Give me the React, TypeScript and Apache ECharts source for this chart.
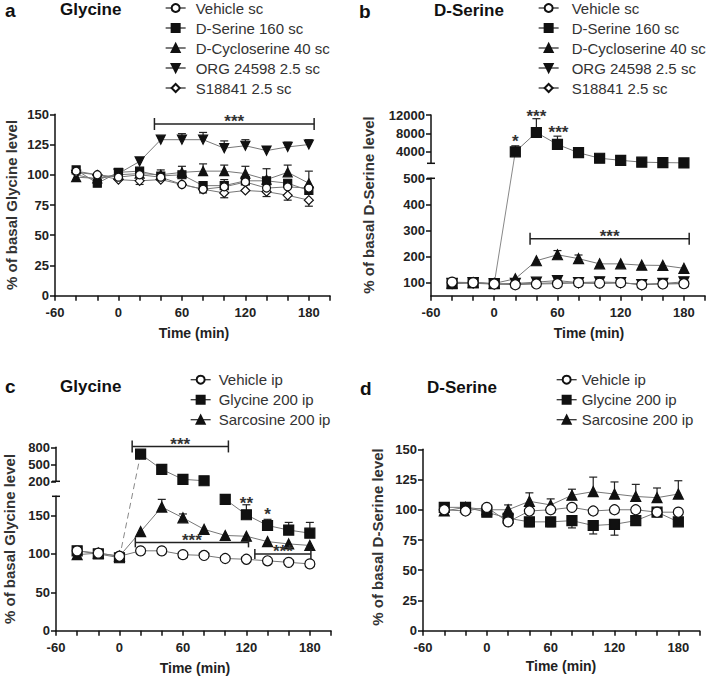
import React, { useEffect, useRef } from 'react';
import * as echarts from 'echarts';

const FONT = '"Liberation Sans", Arial, Helvetica, sans-serif';
const LINE = '#777';
const MARK = '#111';

// ---------- shared ----------
const TIME = [-40, -20, 0, 20, 40, 60, 80, 100, 120, 140, 160, 180];
const TIME_PRE = [-40, -20, 0];
const TIME_POST = [20, 40, 60, 80, 100, 120, 140, 160, 180];
const TIME_C_UPPER = [20, 40, 60, 80];
const TIME_C_LOWER = [100, 120, 140, 160, 180];
const X_TICK_LABELS = [-60, 0, 60, 120, 180];

const SC_NAMES = ['Vehicle sc', 'D-Serine 160 sc', 'D-Cycloserine 40 sc', 'ORG 24598 2.5 sc', 'S18841 2.5 sc'];
const IP_NAMES = ['Vehicle ip', 'Glycine 200 ip', 'Sarcosine 200 ip'];

// ---------- panel a (Glycine, sc) ----------
const A_VEHICLE = [103, 100, 98, 100, 98, 92, 88, 90, 94, 89, 90, 89];
const A_VEHICLE_ERR = [0, 0, 0, 0, 0, 0, 0, 6, 0, 0, 0, 0];
const A_DSERINE = [104, 93, 102, 103, 99, 100, 91, 91, 95, 95, 93, 87];
const A_DSERINE_ERR = [0, 0, 0, 0, 0, 0, -3, 0, 0, -3, 0, 0];
const A_DCS = [98, 97, 100, 101, 100, 102, 103, 103, 101, 96, 102, 93];
const A_DCS_ERR = [0, 0, 0, 0, 4, 5, 6, 5, 6, 9, 6, 10];
const A_ORG = [100, 96, 101, 111, 129, 129, 129, 122, 124, 120, 123, 125];
const A_ORG_ERR = [0, 0, 0, 0, 0, 5, 6, 6, 5, 0, 4, 4];
const A_S18841 = [102, 100, 96, 95, 96, 92, 88, 85, 87, 86, 83, 79];
const A_S18841_ERR = [0, 0, 0, -3, 0, 0, -3, -4, 0, -4, -4, -5];
const A_Y_TICKS = [0, 25, 50, 75, 100, 125, 150];
const A_BRACKETS = [{ x1: 34, x2: 185, y: 142, label: '***', tick: 6 }];

// ---------- panel b (D-Serine, sc) ----------
const B_VEHICLE = [102, 100, 95, 92, 95, 96, 100, 98, 100, 92, 95, 96];
const B_DSERINE_PRE = [96, 100, 96];
const B_DSERINE_POST = [4000, 8200, 5600, 3800, 2600, 2150, 1750, 1650, 1580];
const B_DSERINE_POST_ERR = [1300, 3000, 1800, 700, 0, 0, 0, 0, 0];
const B_DCS = [98, 100, 97, 115, 184, 207, 192, 172, 172, 167, 166, 155];
const B_DCS_ERR = [0, 0, 0, 0, 0, 16, 14, 0, 0, 0, 0, 0];
const B_ORG = [97, 100, 95, 97, 102, 108, 100, 103, 100, 93, 97, 103];
const B_ORG_ERR = [0, 0, 0, 0, 0, 6, 0, 5, 0, 0, 0, 5];
const B_S18841 = [101, 98, 94, 96, 97, 100, 98, 97, 99, 94, 96, 97];
const B_BRACKETS = [{ x1: 34, x2: 185, y: 268, label: '***', tick: 6 }];
const B_STARS = [
  { x: 20, y: 7200, label: '*' },
  { x: 40, y: 12600, label: '***' },
  { x: 61, y: 9000, label: '***' },
];
const B_UPPER_TICKS = [4000, 8000, 12000];
const B_LOWER_TICKS = [100, 200, 300, 400, 500];

// ---------- panel c (Glycine, ip) ----------
const C_VEHICLE = [104, 101, 97, 104, 104, 99, 98, 94, 93, 91, 89, 87];
const C_GLY_PRE = [104, 100, 95];
const C_GLY_UPPER = [680, 410, 235, 210];
const C_GLY_LOWER = [171, 151, 137, 131, 127];
const C_GLY_LOWER_ERR = [0, 13, 8, 10, 14];
const C_SAR = [99, 101, 97, 129, 161, 147, 132, 124, 123, 116, 113, 111];
const C_SAR_ERR = [0, 0, 0, 0, 10, 5, 0, 0, 0, 0, 0, 0];
const C_UPPER_BRACKETS = [{ x1: 12, x2: 103, y: 815, label: '***', tick: 6 }];
const C_LOWER_BRACKETS = [
  { x1: 15, x2: 122, y: 115, label: '***', tick: 5 },
  { x1: 128, x2: 181, y: 100, label: '***', tick: 5 },
];
const C_STARS = [
  { x: 120, y: 171, label: '**' },
  { x: 140, y: 156, label: '*' },
];
const C_UPPER_TICKS = [200, 500, 800];
const C_LOWER_TICKS = [0, 50, 100, 150];

// ---------- panel d (D-Serine, ip) ----------
const D_VEHICLE = [100, 99, 102, 90, 99, 100, 102, 99, 100, 100, 98, 98];
const D_VEHICLE_ERR = [0, 0, 0, -3, 0, 0, 0, 0, 0, 0, 0, 0];
const D_GLY = [102, 102, 98, 93, 90, 90, 91, 87, 88, 91, 98, 90];
const D_GLY_ERR = [0, 0, 0, 0, -4, -4, -6, -7, -9, 0, -3, 0];
const D_SAR = [99, 102, 100, 100, 107, 104, 112, 115, 113, 111, 110, 113];
const D_SAR_ERR = [0, 0, 0, 4, 7, 5, 5, 12, 10, 10, 8, 11];
const D_Y_TICKS = [0, 25, 50, 75, 100, 125, 150];

// ---------- helpers ----------
const DOWN_TRI = 'path://M0,0L10,0L5,9Z';

function lineSeries(name: string, xs: number[], ys: number[], grid: number, symbol: string, fill: string, size: number, z = 3) {
  return {
    type: 'line',
    name,
    xAxisIndex: grid,
    yAxisIndex: grid,
    data: xs.map((x, i) => [x, ys[i]]),
    symbol,
    symbolSize: size,
    showAllSymbol: true,
    lineStyle: { color: LINE, width: 1 },
    itemStyle: { color: fill, borderColor: MARK, borderWidth: 1.2 },
    emphasis: { disabled: true },
    silent: true,
    z,
  };
}

function errorSeries(grid: number, xs: number[], ys: number[], es: number[]) {
  const data = xs.map((x, i) => [x, ys[i], ys[i] + es[i]]).filter((d, i) => es[i] !== 0);
  return {
    type: 'custom',
    xAxisIndex: grid,
    yAxisIndex: grid,
    data,
    encode: { x: 0, y: [1, 2] },
    silent: true,
    z: 1,
    renderItem: (params: any, api: any) => {
      const p0 = api.coord([api.value(0), api.value(1)]);
      const p1 = api.coord([api.value(0), api.value(2)]);
      const st = { stroke: '#222', lineWidth: 1.2 };
      return {
        type: 'group',
        children: [
          { type: 'line', shape: { x1: p0[0], y1: p0[1], x2: p1[0], y2: p1[1] }, style: st },
          { type: 'line', shape: { x1: p1[0] - 4, y1: p1[1], x2: p1[0] + 4, y2: p1[1] }, style: st },
        ],
      };
    },
  };
}

function bracketSeries(grid: number, brackets: { x1: number; x2: number; y: number; label: string; tick: number }[]) {
  return {
    type: 'custom',
    xAxisIndex: grid,
    yAxisIndex: grid,
    data: brackets.map((b) => [b.x1, b.x2, b.y]),
    encode: { x: [0, 1], y: 2 },
    silent: true,
    z: 4,
    renderItem: (params: any, api: any) => {
      const b = brackets[params.dataIndex];
      const a = api.coord([api.value(0), api.value(2)]);
      const c = api.coord([api.value(1), api.value(2)]);
      const st = { stroke: '#222', lineWidth: 1.5 };
      return {
        type: 'group',
        children: [
          { type: 'line', shape: { x1: a[0], y1: a[1], x2: c[0], y2: c[1] }, style: st },
          { type: 'line', shape: { x1: a[0], y1: a[1] - b.tick, x2: a[0], y2: a[1] + b.tick }, style: st },
          { type: 'line', shape: { x1: c[0], y1: c[1] - b.tick, x2: c[0], y2: c[1] + b.tick }, style: st },
          {
            type: 'text',
            x: (a[0] + c[0]) / 2,
            y: a[1] - 2,
            style: { text: b.label, font: `bold 17px ${FONT}`, fill: '#333', textAlign: 'center', textVerticalAlign: 'middle' },
          },
        ],
      };
    },
  };
}

function starSeries(grid: number, stars: { x: number; y: number; label: string }[]) {
  return {
    type: 'custom',
    xAxisIndex: grid,
    yAxisIndex: grid,
    data: stars.map((s) => [s.x, s.y]),
    silent: true,
    z: 4,
    renderItem: (params: any, api: any) => {
      const s = stars[params.dataIndex];
      const p = api.coord([api.value(0), api.value(1)]);
      return {
        type: 'text',
        x: p[0],
        y: p[1] + 4,
        style: { text: s.label, font: `bold 17px ${FONT}`, fill: '#333', textAlign: 'center', textVerticalAlign: 'middle' },
      };
    },
  };
}

function breakSeries(grid: number, marks: number[][]) {
  return {
    type: 'custom',
    xAxisIndex: grid,
    yAxisIndex: grid,
    data: marks,
    silent: true,
    z: 4,
    renderItem: (params: any, api: any) => {
      const p = api.coord([api.value(0), api.value(1)]);
      return { type: 'line', shape: { x1: p[0] - 4, y1: p[1], x2: p[0] + 4, y2: p[1] }, style: { stroke: MARK, lineWidth: 1.5 } };
    },
  };
}

const axisLineStyle = { color: MARK, width: 1.5 };
const tickLabel = { fontFamily: FONT, fontWeight: 'bold', fontSize: 13, color: '#222' };
const plain = (v: number) => String(v);

function xAxis(grid: number, show = true) {
  return {
    type: 'value',
    gridIndex: grid,
    show,
    min: -60,
    max: 200,
    interval: 20,
    axisLine: { show: true, onZero: false, lineStyle: axisLineStyle },
    axisTick: { show: true, length: 5, lineStyle: axisLineStyle },
    axisLabel: { ...tickLabel, margin: 10, customValues: X_TICK_LABELS, formatter: plain },
    splitLine: { show: false },
  };
}

function yAxis(grid: number, min: number, max: number, labels: number[], ticks?: number[]) {
  return {
    type: 'value',
    gridIndex: grid,
    min,
    max,
    axisLine: { show: true, onZero: false, lineStyle: axisLineStyle },
    axisTick: { show: true, length: 5, lineStyle: axisLineStyle, customValues: ticks || labels },
    axisLabel: { ...tickLabel, margin: 6, customValues: labels, formatter: plain },
    splitLine: { show: false },
  };
}

function legend(names: string[], left: number, top: number, pad: number) {
  return {
    left,
    top,
    orient: 'vertical',
    padding: 0,
    itemWidth: 20,
    itemHeight: 10,
    itemGap: 0,
    selectedMode: false,
    data: names,
    lineStyle: { color: '#333', width: 1.3 },
    textStyle: { fontFamily: FONT, fontSize: 15, color: '#333', lineHeight: 20, padding: [0, 0, 0, pad] },
  };
}

function buildOption() {
  const grids = [
    { left: 55, top: 114.3, width: 275, height: 181.4 },
    { left: 431, top: 115, width: 274, height: 48.3 },
    { left: 431, top: 178.3, width: 274, height: 117.4 },
    { left: 56, top: 447.3, width: 275, height: 34 },
    { left: 56, top: 496.3, width: 275, height: 134.4 },
    { left: 423, top: 449.3, width: 276.6, height: 181.4 },
  ].map((g) => ({ ...g, outerBoundsMode: 'none', containLabel: false }));

  const series: any[] = [
    // panel a
    errorSeries(0, TIME, A_ORG, A_ORG_ERR),
    errorSeries(0, TIME, A_DCS, A_DCS_ERR),
    errorSeries(0, TIME, A_DSERINE, A_DSERINE_ERR),
    errorSeries(0, TIME, A_VEHICLE, A_VEHICLE_ERR),
    errorSeries(0, TIME, A_S18841, A_S18841_ERR),
    lineSeries(SC_NAMES[3], TIME, A_ORG, 0, DOWN_TRI, MARK, 9),
    lineSeries(SC_NAMES[2], TIME, A_DCS, 0, 'triangle', MARK, 9),
    lineSeries(SC_NAMES[1], TIME, A_DSERINE, 0, 'rect', MARK, 8),
    lineSeries(SC_NAMES[4], TIME, A_S18841, 0, 'diamond', '#fff', 9),
    lineSeries(SC_NAMES[0], TIME, A_VEHICLE, 0, 'circle', '#fff', 8),
    bracketSeries(0, A_BRACKETS),
    // panel b
    errorSeries(1, TIME_POST, B_DSERINE_POST, B_DSERINE_POST_ERR),
    errorSeries(2, TIME, B_DCS, B_DCS_ERR),
    errorSeries(2, TIME, B_ORG, B_ORG_ERR),
    lineSeries(SC_NAMES[1], TIME_POST, B_DSERINE_POST, 1, 'rect', MARK, 10),
    lineSeries(SC_NAMES[1], TIME_PRE, B_DSERINE_PRE, 2, 'rect', MARK, 10),
    lineSeries(SC_NAMES[2], TIME, B_DCS, 2, 'triangle', MARK, 10),
    lineSeries(SC_NAMES[3], TIME, B_ORG, 2, DOWN_TRI, MARK, 10),
    lineSeries(SC_NAMES[4], TIME, B_S18841, 2, 'diamond', '#fff', 9),
    lineSeries(SC_NAMES[0], TIME, B_VEHICLE, 2, 'circle', '#fff', 10),
    bracketSeries(2, B_BRACKETS),
    starSeries(1, B_STARS),
    breakSeries(1, [[-60, 1500]]),
    breakSeries(2, [[-60, 500]]),
    // panel c
    errorSeries(4, TIME_C_LOWER, C_GLY_LOWER, C_GLY_LOWER_ERR),
    errorSeries(4, TIME, C_SAR, C_SAR_ERR),
    lineSeries(IP_NAMES[1], TIME_C_UPPER, C_GLY_UPPER, 3, 'rect', MARK, 10),
    lineSeries(IP_NAMES[1], TIME_PRE, C_GLY_PRE, 4, 'rect', MARK, 10),
    lineSeries(IP_NAMES[1], TIME_C_LOWER, C_GLY_LOWER, 4, 'rect', MARK, 10),
    lineSeries(IP_NAMES[2], TIME, C_SAR, 4, 'triangle', MARK, 10),
    lineSeries(IP_NAMES[0], TIME, C_VEHICLE, 4, 'circle', '#fff', 10),
    bracketSeries(3, C_UPPER_BRACKETS),
    bracketSeries(4, C_LOWER_BRACKETS),
    starSeries(4, C_STARS),
    breakSeries(3, [[-60, 200]]),
    breakSeries(4, [[-60, 175]]),
    // panel d
    errorSeries(5, TIME, D_SAR, D_SAR_ERR),
    errorSeries(5, TIME, D_GLY, D_GLY_ERR),
    errorSeries(5, TIME, D_VEHICLE, D_VEHICLE_ERR),
    lineSeries(IP_NAMES[2], TIME, D_SAR, 5, 'triangle', MARK, 10),
    lineSeries(IP_NAMES[1], TIME, D_GLY, 5, 'rect', MARK, 10),
    lineSeries(IP_NAMES[0], TIME, D_VEHICLE, 5, 'circle', '#fff', 10),
  ];

  return {
    animation: false,
    backgroundColor: '#fff',
    grid: grids,
    xAxis: [xAxis(0), xAxis(1, false), xAxis(2), xAxis(3, false), xAxis(4), xAxis(5)],
    yAxis: [
      yAxis(0, 0, 150, A_Y_TICKS),
      yAxis(1, 1500, 12000, B_UPPER_TICKS),
      yAxis(2, 50, 500, B_LOWER_TICKS),
      yAxis(3, 200, 800, C_UPPER_TICKS),
      yAxis(4, 0, 175, C_LOWER_TICKS),
      yAxis(5, 0, 150, D_Y_TICKS),
    ],
    legend: [
      legend(SC_NAMES, 165, -2, 5),
      legend(SC_NAMES, 538, -2, 8),
      legend(IP_NAMES, 190, 369.7, 3),
      legend(IP_NAMES, 556, 369.7, 0),
    ],
    series,
  };
}

const TEXTS = [
  { text: 'a', x: 5, y: 10, size: 19, bold: true },
  { text: 'Glycine', x: 60, y: 9, size: 17, bold: true },
  { text: 'b', x: 359, y: 11, size: 19, bold: true },
  { text: 'D-Serine', x: 434, y: 10, size: 17, bold: true },
  { text: 'c', x: 5, y: 386, size: 19, bold: true },
  { text: 'Glycine', x: 60, y: 386, size: 17, bold: true },
  { text: 'd', x: 360, y: 388, size: 19, bold: true },
  { text: 'D-Serine', x: 427, y: 387, size: 17, bold: true },
];
const X_NAMES = [
  { text: 'Time (min)', x: 194, y: 333 },
  { text: 'Time (min)', x: 589, y: 333 },
  { text: 'Time (min)', x: 195, y: 668 },
  { text: 'Time (min)', x: 561, y: 666 },
];
const Y_NAMES = [
  { text: '% of basal Glycine level', x: 11, y: 205 },
  { text: '% of basal D-Serine level', x: 368, y: 205 },
  { text: '% of basal Glycine level', x: 9, y: 539 },
  { text: '% of basal D-Serine level', x: 377, y: 537 },
];

export default function App() {
  const ref = useRef<HTMLDivElement>(null);
  useEffect(() => {
    if (!ref.current) return;
    const chart = echarts.init(ref.current, null, { renderer: 'svg' });
    chart.setOption(buildOption() as any);

    const elements: any[] = [];
    TEXTS.forEach((t) =>
      elements.push({
        type: 'text',
        x: t.x,
        y: t.y,
        style: { text: t.text, font: `${t.bold ? 'bold ' : ''}${t.size}px ${FONT}`, fill: '#111', textAlign: 'left', textVerticalAlign: 'middle' },
      })
    );
    X_NAMES.forEach((t) =>
      elements.push({
        type: 'text',
        x: t.x,
        y: t.y,
        style: { text: t.text, font: `bold 14px ${FONT}`, fill: '#222', textAlign: 'center', textVerticalAlign: 'middle' },
      })
    );
    Y_NAMES.forEach((t) =>
      elements.push({
        type: 'text',
        x: t.x,
        y: t.y,
        rotation: Math.PI / 2,
        style: { text: t.text, font: `bold 15px ${FONT}`, fill: '#333', textAlign: 'center', textVerticalAlign: 'middle' },
      })
    );
    try {
      const b0 = chart.convertToPixel({ gridIndex: 2 } as any, [0, B_DSERINE_PRE[2]]) as number[];
      const b1 = chart.convertToPixel({ gridIndex: 1 } as any, [TIME_POST[0], B_DSERINE_POST[0]]) as number[];
      elements.push({ type: 'line', z: 0, shape: { x1: b0[0], y1: b0[1], x2: b1[0], y2: b1[1] }, style: { stroke: '#888', lineWidth: 1 } });
      const c0 = chart.convertToPixel({ gridIndex: 4 } as any, [0, C_GLY_PRE[2]]) as number[];
      const c1 = chart.convertToPixel({ gridIndex: 3 } as any, [TIME_C_UPPER[0], C_GLY_UPPER[0]]) as number[];
      elements.push({ type: 'line', z: 0, shape: { x1: c0[0], y1: c0[1], x2: c1[0], y2: c1[1] }, style: { stroke: '#888', lineWidth: 1, lineDash: [6, 4] } });
    } catch (e) {
      // ignore
    }
    chart.setOption({ graphic: { elements } } as any);
    return () => chart.dispose();
  }, []);
  return <div ref={ref} style={{ position: 'fixed', left: 0, top: 0, width: 708, height: 676, background: '#fff' }} />;
}
